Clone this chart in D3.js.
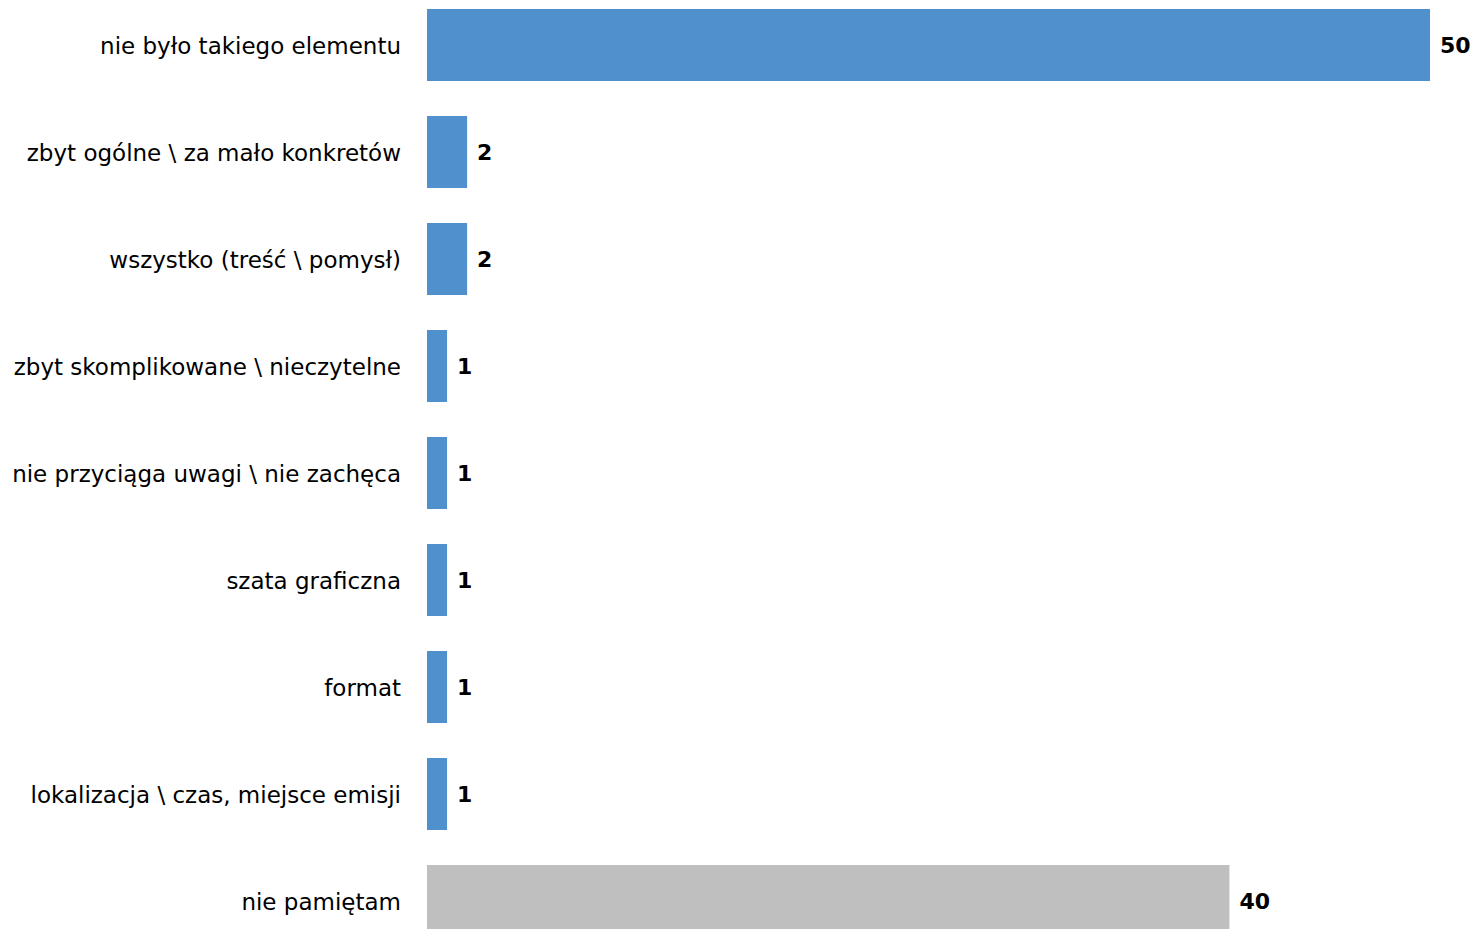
<!DOCTYPE html>
<html>
<head>
<meta charset="utf-8">
<script src="https://cdn.jsdelivr.net/npm/d3@7"></script>
<style>
  html, body { margin: 0; padding: 0; background: #fff; }
  svg { display: block; }
</style>
</head>
<body>
<svg id="chart" width="1475" height="929"></svg>
<script>
// Answers and counts
const categories = [
  "nie było takiego elementu",
  "zbyt ogólne \\ za mało konkretów",
  "wszystko (treść \\ pomysł)",
  "zbyt skomplikowane \\ nieczytelne",
  "nie przyciąga uwagi \\ nie zachęca",
  "szata graficzna",
  "format",
  "lokalizacja \\ czas, miejsce emisji",
  "nie pamiętam"
];
const values = [50, 2, 2, 1, 1, 1, 1, 1, 40];
const barColors = ["#4F90CD", "#4F90CD", "#4F90CD", "#4F90CD", "#4F90CD", "#4F90CD", "#4F90CD", "#4F90CD", "#BFBFBF"];

const svg = d3.select("#chart");
const font = "'DejaVu Sans', Tahoma, Verdana, sans-serif";

const x = d3.scaleLinear().domain([0, 50]).range([427, 1430]);
const y = d3.scaleBand()
  .domain(categories)
  .range([9, 937])
  .paddingInner(35 / 107)
  .paddingOuter(0);

const rows = categories.map((c, i) => ({ c, v: values[i], color: barColors[i] }));

svg.selectAll("rect.bar")
  .data(rows)
  .join("rect")
  .attr("class", "bar")
  .attr("x", x(0))
  .attr("y", d => y(d.c))
  .attr("width", d => x(d.v) - x(0))
  .attr("height", y.bandwidth())
  .attr("fill", d => d.color);

// Category axis on the left, no line or ticks
const yAxis = d3.axisLeft(y).tickSize(0).tickPadding(0);
const gy = svg.append("g")
  .attr("transform", `translate(${x(0) - 26},2)`)
  .call(yAxis);
gy.select(".domain").remove();
gy.selectAll("text")
  .attr("font-family", font)
  .attr("font-size", 23)
  .attr("fill", "#000");

// Keep the longest labels inside the left edge
gy.selectAll("text").each(function () {
  const w = this.getComputedTextLength();
  const maxW = x(0) - 26 - 8;
  if (w > maxW) {
    d3.select(this).attr("textLength", maxW).attr("lengthAdjust", "spacingAndGlyphs");
  }
});

// Value labels
svg.selectAll("text.val")
  .data(rows)
  .join("text")
  .attr("class", "val")
  .attr("x", d => x(d.v) + 10)
  .attr("y", d => y(d.c) + y.bandwidth() / 2)
  .attr("dy", "0.35em")
  .attr("font-family", font)
  .attr("font-size", 22)
  .attr("font-weight", "bold")
  .attr("fill", "#000")
  .text(d => d.v);
</script>
</body>
</html>
